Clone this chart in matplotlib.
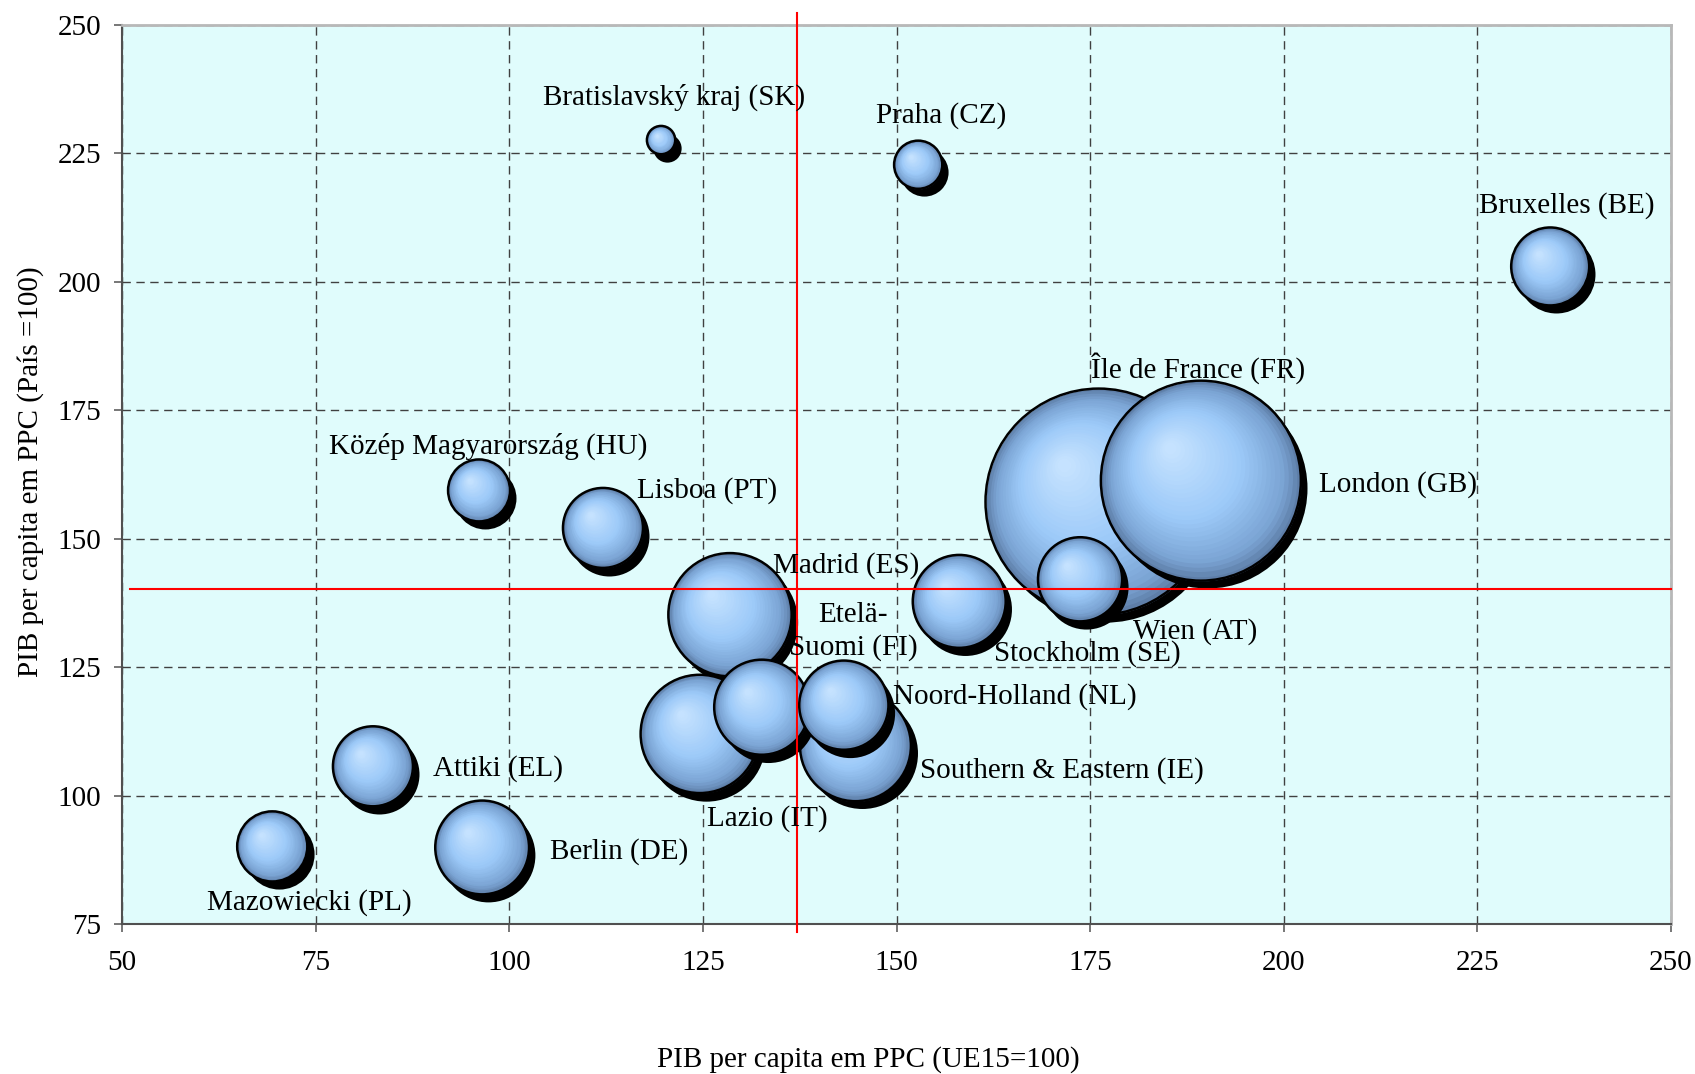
import matplotlib
matplotlib.use("Agg")
import matplotlib.pyplot as plt
from matplotlib.transforms import offset_copy
from matplotlib.colors import LinearSegmentedColormap
import numpy as np

plt.rcParams['font.family'] = ['Liberation Serif', 'DejaVu Serif']

# dados
regioes = ["Bratislavský kraj (SK)", "Praha (CZ)", "Bruxelles (BE)", "Île de France (FR)",
           "London (GB)", "Wien (AT)", "Stockholm (SE)", "Madrid (ES)", "Etelä-\nSuomi (FI)",
           "Noord-Holland (NL)", "Southern & Eastern (IE)", "Lazio (IT)", "Attiki (EL)",
           "Berlin (DE)", "Mazowiecki (PL)", "Közép Magyarország (HU)", "Lisboa (PT)"]
pib_ue15 = [119.6, 152.8, 234.4, 176.1, 189.3, 173.7, 158.1, 128.5, 132.6,
            143.2, 144.7, 124.6, 82.4, 96.5, 69.4, 96.1, 112.1]
pib_pais = [227.6, 222.8, 203.0, 157.2, 161.3, 142.1, 137.8, 135.2, 117.2,
            117.6, 109.7, 112.0, 105.7, 89.9, 90.1, 159.4, 152.1]
tamanho = [2.0, 5.8, 15.2, 128.0, 100.0, 17.7, 21.6, 38.0, 22.6,
           19.9, 30.8, 35.0, 16.0, 22.0, 12.3, 9.6, 16.0]

media_ue15 = 137.2
media_pais = 140.2

# posição dos rótulos (x, y, alinhamento)
rotulos_pos = [(121.3, 236.0, 'center'), (155.7, 232.4, 'center'), (236.6, 214.8, 'center'),
               (189.0, 183.3, 'center'), (204.6, 160.5, 'left'), (188.6, 132.0, 'center'),
               (174.7, 127.6, 'center'), (143.5, 144.8, 'center'), (144.4, 132.0, 'center'),
               (149.6, 119.3, 'left'), (153.0, 104.9, 'left'), (133.3, 95.6, 'center'),
               (90.1, 105.2, 'left'), (105.2, 89.2, 'left'), (74.2, 79.1, 'center'),
               (97.3, 168.0, 'center'), (116.5, 159.3, 'left')]

fig = plt.figure(figsize=(16.95, 10.74), dpi=100)
ax = fig.add_axes([122 / 1695, 1 - 924 / 1074, 1549 / 1695, 899 / 1074])
ax.set_facecolor('#E0FCFC')

ax.set_xlim(50, 250)
ax.set_ylim(75, 250)
ax.set_xticks(np.arange(50, 251, 25))
ax.set_yticks(np.arange(75, 251, 25))
ax.set_axisbelow(True)
ax.grid(True, color='#404040', linestyle=(0, (6, 4)), linewidth=1.0)

for lado in ['top', 'right']:
    ax.spines[lado].set_color('#B8B8B8')
    ax.spines[lado].set_linewidth(2)
for lado in ['left', 'bottom']:
    ax.spines[lado].set_color('#505050')
    ax.spines[lado].set_linewidth(1.5)
ax.tick_params(axis='both', direction='out', length=6, width=1.2, color='#606060',
               labelsize=21)
ax.tick_params(axis='x', pad=13)
ax.tick_params(axis='y', pad=9)

# gradiente das bolhas
cmap = LinearSegmentedColormap.from_list('bolha', [(0.0, '#5E7EA8'), (0.12, '#7AA3D3'),
                                                   (0.45, '#9CC9F8'), (1.0, '#C8E4FF')])
n_camadas = 30
k = 207.36  # pontos^2 por unidade de tamanho

ordem = np.argsort(tamanho)[::-1]
for i in ordem:
    x, y, s = pib_ue15[i], pib_pais[i], tamanho[i] * k
    r_pt = np.sqrt(s) / 2
    sombra = offset_copy(ax.transData, fig=fig, x=4.5, y=-5.5, units='points')
    ax.scatter([x], [y], s=s, color='black', linewidths=0, transform=sombra, zorder=3)
    for j in range(n_camadas):
        t = j / n_camadas
        desl = offset_copy(ax.transData, fig=fig, x=-0.32 * r_pt * t, y=0.34 * r_pt * t,
                           units='points')
        ax.scatter([x], [y], s=s * (1 - 0.97 * t) ** 2, color=cmap(t), linewidths=0,
                   transform=desl, zorder=3)
    ax.scatter([x], [y], s=s, facecolors='none', edgecolors='black', linewidths=1.8,
               zorder=3)

# linhas de referência
ax.plot([media_ue15, media_ue15], [73.4, 252.4], color='#FF0000', linewidth=1.5,
        clip_on=False, zorder=10)
ax.plot([51.0, 250], [media_pais, media_pais], color='#FF0000', linewidth=1.5,
        clip_on=False, zorder=10)

for nome, (lx, ly, ha) in zip(regioes, rotulos_pos):
    ax.text(lx, ly, nome, ha=ha, va='center', fontsize=21, linespacing=1.3, zorder=11)

fig.text(868 / 1695, 1 - 1060 / 1074, "PIB per capita em PPC (UE15=100)", ha='center',
         va='center', fontsize=21)
fig.text(31 / 1695, 1 - 472 / 1074, "PIB per capita em PPC (País =100)", ha='center',
         va='center', rotation=90, fontsize=21)

fig.savefig('out.png', dpi=100)
